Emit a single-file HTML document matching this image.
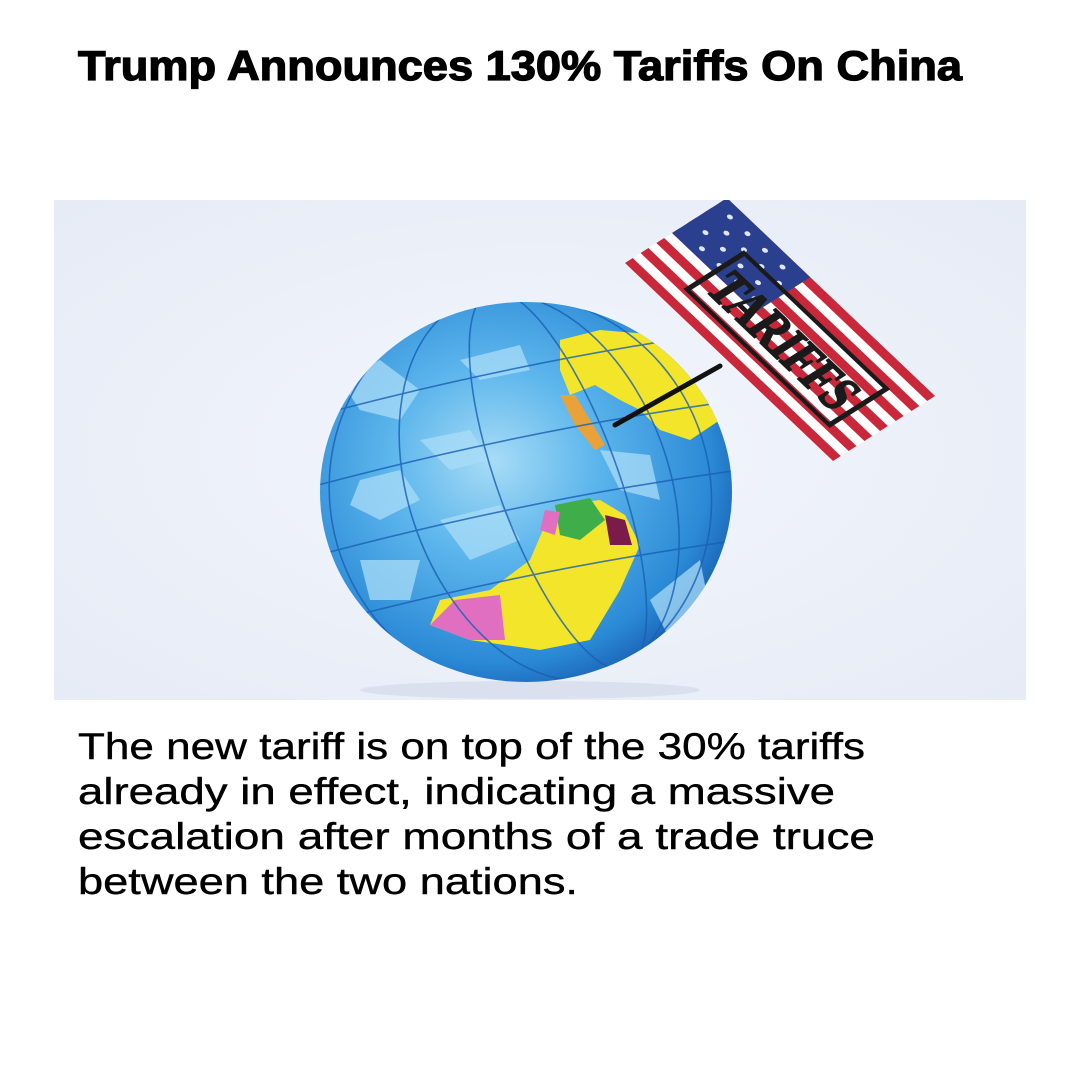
<!DOCTYPE html>
<html><head><meta charset="utf-8"><style>
html,body{margin:0;padding:0;background:#fff;}
svg{display:block;}
</style></head><body>
<svg width="1080" height="1080" viewBox="0 0 1080 1080">
<defs>
<radialGradient id="gball" cx="0.42" cy="0.42" r="0.62">
<stop offset="0" stop-color="#a8dcf6"/><stop offset="0.4" stop-color="#5db6ec"/><stop offset="0.85" stop-color="#2b8ad6"/><stop offset="1" stop-color="#1c66b8"/>
</radialGradient>
<radialGradient id="gbg" cx="0.5" cy="0.5" r="0.7">
<stop offset="0" stop-color="#f3f6fc"/><stop offset="1" stop-color="#e6ebf6"/>
</radialGradient>
<clipPath id="imgclip"><rect x="54" y="200" width="972" height="500"/></clipPath>
<clipPath id="ballclip"><ellipse cx="526" cy="492" rx="206" ry="190"/></clipPath>
</defs>
<text x="78" y="80" font-family="Liberation Sans, sans-serif" font-weight="700" font-size="42" textLength="884" lengthAdjust="spacingAndGlyphs" fill="#000" stroke="#000" stroke-width="1.3">Trump Announces 130% Tariffs On China</text>

<g clip-path="url(#imgclip)">
<rect x="54" y="200" width="972" height="500" fill="url(#gbg)"/>
<ellipse cx="530" cy="690" rx="170" ry="9" fill="#cfd7e6" opacity="0.6"/>
<g>
<ellipse cx="526" cy="492" rx="206" ry="190" fill="url(#gball)"/>
<g clip-path="url(#ballclip)">
<path d="M340 380 L380 360 L420 390 L400 420 L360 410 Z M420 440 L470 430 L490 460 L450 470 Z M360 480 L400 470 L420 500 L380 520 L350 505 Z M460 360 L520 345 L530 370 L480 380 Z M440 520 L500 505 L520 540 L470 560 Z M360 560 L420 560 L410 600 L370 600 Z M600 450 L650 455 L660 500 L620 490 Z M650 600 L700 560 L710 610 L670 640 Z" fill="#a9dcf7" opacity="0.75"/>
<path d="M560 340 L600 330 L660 335 L700 360 L720 420 L690 440 L660 430 L640 410 L620 400 L595 385 L570 395 L560 370 Z" fill="#f2e52a"/>
<path d="M560 395 L575 395 L590 420 L605 445 L595 450 L575 425 Z" fill="#e9a23a"/>
<path d="M660 335 L720 340 L740 400 L720 420 L700 360 Z" fill="#8ccf72"/>
<path d="M560 505 L600 500 L625 515 L640 545 L620 590 L590 640 L540 650 L470 640 L430 625 L440 600 L490 590 L530 560 L545 525 Z" fill="#f2e52a"/>
<path d="M455 600 L500 595 L505 640 L470 640 L430 625 Z" fill="#e06fc2"/>
<path d="M555 505 L590 498 L605 520 L580 540 L560 535 Z" fill="#3fae4a"/>
<path d="M605 515 L625 520 L632 545 L610 545 Z" fill="#7a1b4a"/>
<path d="M545 510 L560 512 L555 535 L540 530 Z" fill="#e06fc2"/>
<g fill="none" stroke="#1a5fb4" stroke-width="1.6" opacity="0.8">
<ellipse cx="560" cy="492" rx="60" ry="200" transform="rotate(-20 526 492)"/>
<ellipse cx="540" cy="492" rx="130" ry="200" transform="rotate(-20 526 492)"/>
<ellipse cx="520" cy="492" rx="190" ry="200" transform="rotate(-20 526 492)"/>
<path d="M300 420 Q520 360 740 330 M300 490 Q520 430 740 400 M300 560 Q520 500 740 470 M300 630 Q520 570 740 540 M300 350 Q520 290 740 260"/>
</g>
</g>
</g>
<line x1="615" y1="425" x2="720" y2="366" stroke="#111" stroke-width="5" stroke-linecap="round"/>
<g transform="matrix(1.095 1.042 -1.02 0.65 727 198)">
<rect x="0" y="0" width="190" height="100" fill="#fff"/>
<g fill="#c8283a">
<rect y="0" width="190" height="7.7"/><rect y="15.4" width="190" height="7.7"/><rect y="30.8" width="190" height="7.7"/><rect y="46.2" width="190" height="7.7"/><rect y="61.6" width="190" height="7.7"/><rect y="77" width="190" height="7.7"/><rect y="92.4" width="190" height="7.6"/>
</g>
<rect x="0" y="0" width="76" height="53.8" fill="#2b3f8f"/>
<g fill="#dfe6f6">
<circle cx="12" cy="10" r="2"/><circle cx="28" cy="10" r="2"/><circle cx="44" cy="10" r="2"/><circle cx="60" cy="10" r="2"/>
<circle cx="20" cy="22" r="2"/><circle cx="36" cy="22" r="2"/><circle cx="52" cy="22" r="2"/><circle cx="68" cy="22" r="2"/>
<circle cx="12" cy="34" r="2"/><circle cx="28" cy="34" r="2"/><circle cx="44" cy="34" r="2"/><circle cx="60" cy="34" r="2"/>
<circle cx="20" cy="46" r="2"/><circle cx="36" cy="46" r="2"/><circle cx="52" cy="46" r="2"/><circle cx="68" cy="46" r="2"/>
</g>
<rect x="38" y="24" width="130" height="56" fill="none" stroke="#1a1a1a" stroke-width="3.5"/>
<text x="103" y="70" text-anchor="middle" font-family="Liberation Serif, serif" font-weight="700" font-size="46" textLength="118" lengthAdjust="spacingAndGlyphs" fill="#1a1a1a" stroke="#1a1a1a" stroke-width="1.5">TARIFFS</text>
</g>
</g>

<g font-family="Liberation Sans, sans-serif" font-size="37" fill="#000" stroke="#000" stroke-width="0.4">
<text x="78" y="759" textLength="787" lengthAdjust="spacingAndGlyphs">The new tariff is on top of the 30% tariffs</text>
<text x="78" y="804" textLength="757" lengthAdjust="spacingAndGlyphs">already in effect, indicating a massive</text>
<text x="78" y="849" textLength="797" lengthAdjust="spacingAndGlyphs">escalation after months of a trade truce</text>
<text x="78" y="894" textLength="500" lengthAdjust="spacingAndGlyphs">between the two nations.</text>
</g>
</svg>
</body></html>
